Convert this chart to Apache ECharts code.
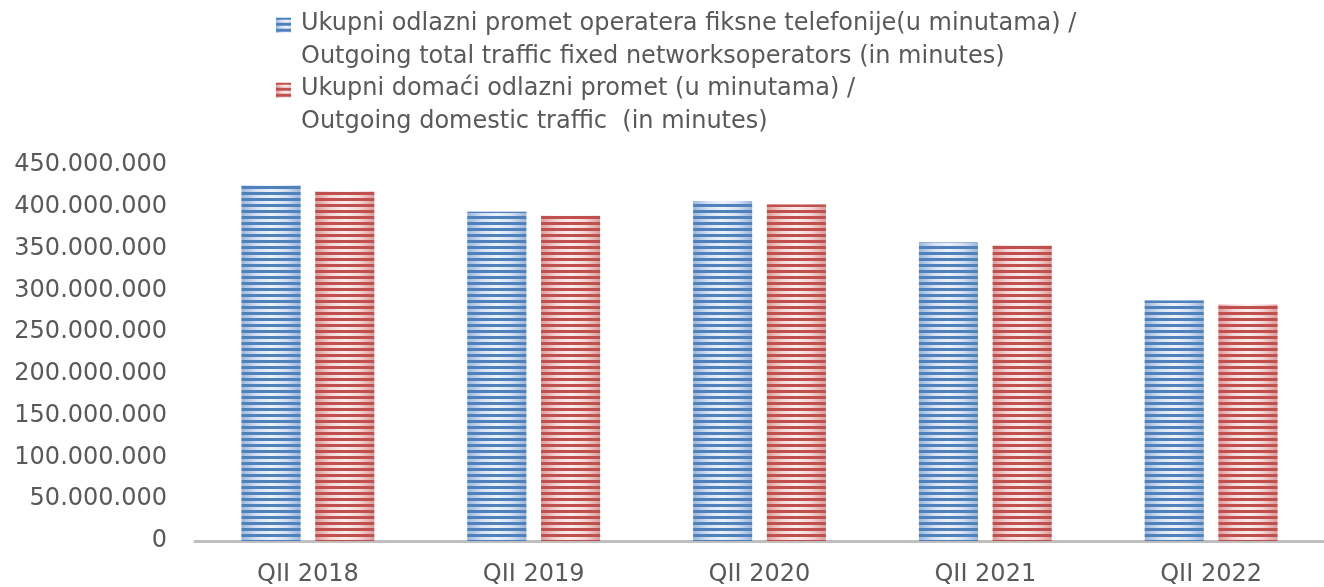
<!DOCTYPE html>
<html>
<head>
<meta charset="utf-8">
<title>Outgoing traffic</title>
<script src="https://cdn.jsdelivr.net/npm/echarts@6.0.0/dist/echarts.min.js"></script>
<style>
  html, body { margin: 0; padding: 0; background: #fff; }
  #chart { width: 1324px; height: 587px; }
</style>
</head>
<body>
<div id="chart"></div>
<script>
  const categories = ["QII 2018", "QII 2019", "QII 2020", "QII 2021", "QII 2022"];
  const totalTraffic = [425400000, 394000000, 406800000, 357100000, 287700000];
  const domesticTraffic = [418200000, 389300000, 402700000, 353600000, 283000000];
  const seriesNames = [
    "Ukupni odlazni promet operatera fiksne telefonije(u minutama) /\nOutgoing total traffic fixed networksoperators (in minutes)",
    "Ukupni domaći odlazni promet (u minutama) /\nOutgoing domestic traffic  (in minutes)"
  ];

  const textColor = "#595959";
  const font = "DejaVu Sans";

  // light part of the bar: bright in the middle, darker at the sides
  function barFill(edge, mid, center) {
    return new echarts.graphic.LinearGradient(0, 0, 1, 0, [
      { offset: 0, color: edge },
      { offset: 0.25, color: mid },
      { offset: 0.5, color: center },
      { offset: 0.75, color: mid },
      { offset: 1, color: edge }
    ]);
  }

  function stripes(color) {
    return {
      symbol: "rect",
      symbolSize: 1,
      color: color,
      dashArrayX: [1, 0],
      dashArrayY: [3, 3],
      rotation: 0
    };
  }

  const chart = echarts.init(document.getElementById("chart"));

  chart.setOption({
    animation: false,
    textStyle: { fontFamily: font },
    legend: {
      orient: "vertical",
      left: 276,
      top: 8,
      padding: 0,
      itemGap: 0,
      itemWidth: 20,
      itemHeight: 47.5,
      // square on the first line of each two-line entry
      icon: "path://M0,2H15V17H0Z M20,47.5H20.01",
      textStyle: {
        color: textColor,
        fontSize: 24,
        fontFamily: font,
        lineHeight: 32.5
      },
      data: seriesNames
    },
    grid: {
      left: 195,
      right: 0,
      top: 165,
      bottom: 44
    },
    xAxis: {
      type: "category",
      data: categories,
      axisTick: { show: false },
      axisLine: { lineStyle: { color: "#bfbfbf", width: 3 } },
      axisLabel: {
        color: textColor,
        fontSize: 24,
        fontFamily: font,
        margin: 22
      }
    },
    yAxis: {
      type: "value",
      min: 0,
      max: 450000000,
      interval: 50000000,
      splitLine: { show: false },
      axisLine: { show: false },
      axisTick: { show: false },
      axisLabel: {
        color: textColor,
        fontSize: 24,
        fontFamily: font,
        margin: 28,
        formatter: function (value) {
          return String(value).replace(/\B(?=(\d{3})+(?!\d))/g, ".");
        }
      }
    },
    series: [
      {
        name: seriesNames[0],
        type: "bar",
        data: totalTraffic,
        barWidth: 59,
        barGap: "25%",
        itemStyle: {
          color: barFill("#9ab6dc", "#d6e0f1", "#edf2fa"),
          decal: stripes("#4f81bd")
        }
      },
      {
        name: seriesNames[1],
        type: "bar",
        data: domesticTraffic,
        barWidth: 59,
        barGap: "25%",
        itemStyle: {
          color: barFill("#dc9b99", "#f2d6d5", "#faeded"),
          decal: stripes("#c0504d")
        }
      }
    ]
  });
</script>
</body>
</html>
